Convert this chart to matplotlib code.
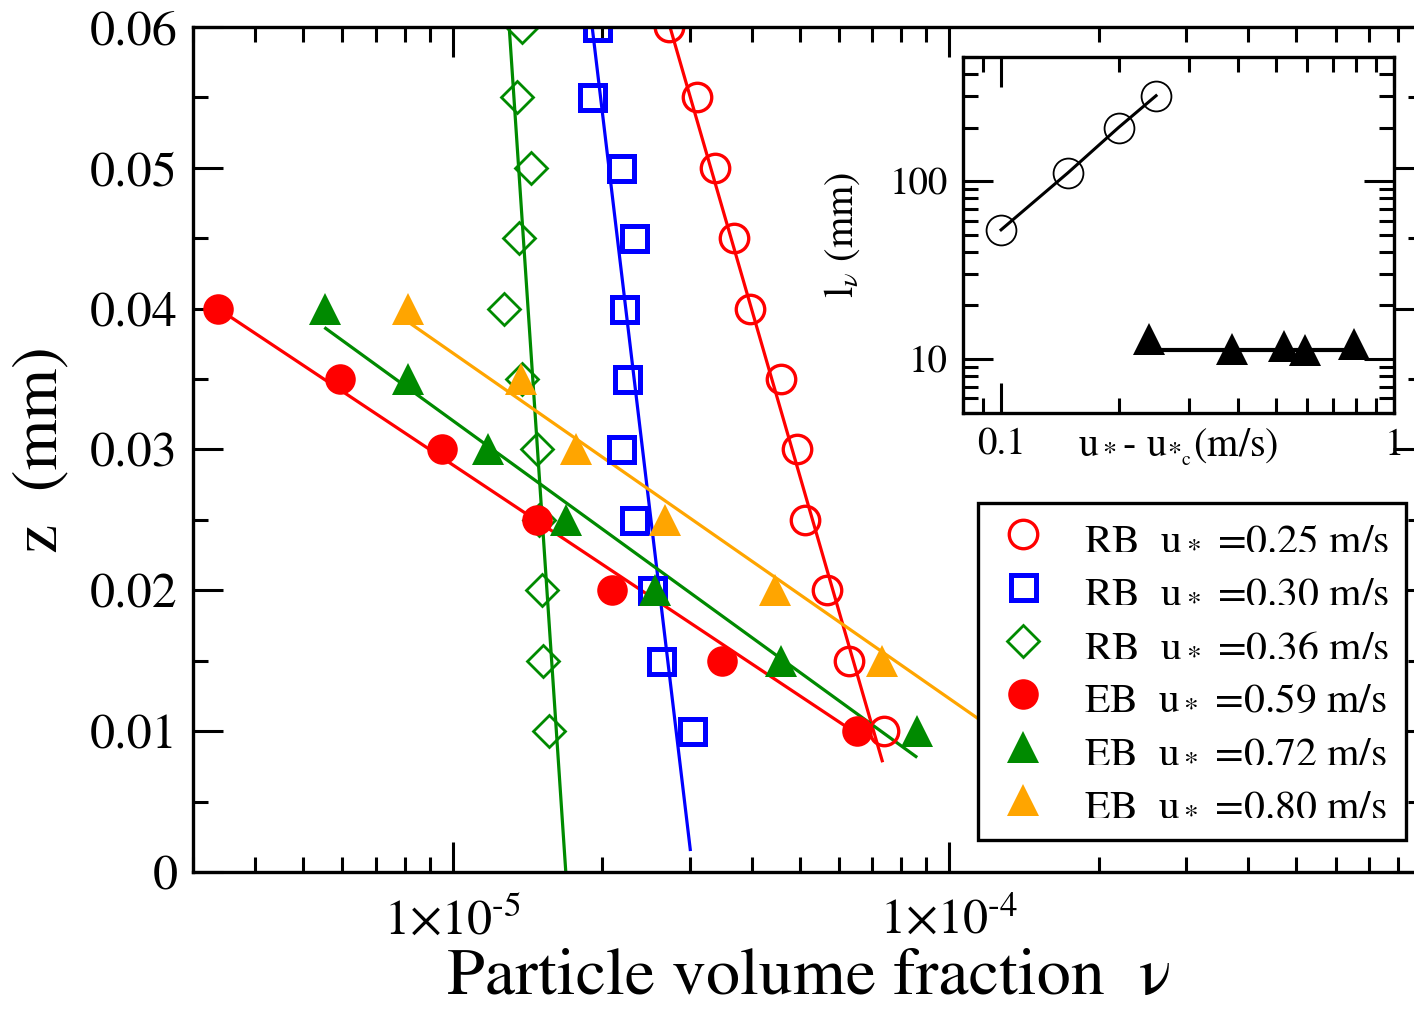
import numpy as np
import matplotlib
matplotlib.use('Agg')
import matplotlib.pyplot as plt
from matplotlib.ticker import MultipleLocator, NullFormatter, LogLocator

plt.rcParams['font.family'] = ['STIXGeneral', 'DejaVu Serif']
plt.rcParams['mathtext.fontset'] = 'stix'

# ---- main panel data ----
z_rb = [0.06, 0.055, 0.05, 0.045, 0.04, 0.035, 0.03, 0.025, 0.02, 0.015, 0.01]
nu_rb025 = [2.73e-5, 3.10e-5, 3.37e-5, 3.68e-5, 3.97e-5, 4.58e-5, 4.93e-5, 5.12e-5, 5.68e-5, 6.28e-5, 7.39e-5]
nu_rb030 = [1.95e-5, 1.91e-5, 2.18e-5, 2.32e-5, 2.21e-5, 2.24e-5, 2.18e-5, 2.32e-5, 2.52e-5, 2.63e-5, 3.03e-5]
nu_rb036 = [1.38e-5, 1.35e-5, 1.44e-5, 1.36e-5, 1.27e-5, 1.38e-5, 1.48e-5, 1.49e-5, 1.51e-5, 1.52e-5, 1.56e-5]

z_eb = [0.04, 0.035, 0.03, 0.025, 0.02, 0.015, 0.01]
nu_eb059 = [3.37e-6, 5.93e-6, 9.50e-6, 1.48e-5, 2.09e-5, 3.49e-5, 6.53e-5]
nu_eb072 = [5.53e-6, 8.14e-6, 1.18e-5, 1.69e-5, 2.56e-5, 4.58e-5, 8.63e-5]
z_eb080 = [0.04, 0.035, 0.03, 0.025, 0.02, 0.015]
nu_eb080 = [8.14e-6, 1.37e-5, 1.77e-5, 2.68e-5, 4.46e-5, 7.31e-5]

# fitted lines (end points)
fit_z_rb025, fit_nu_rb025 = [0.06, 0.0079], [2.74e-5, 7.33e-5]
fit_z_rb030, fit_nu_rb030 = [0.06, 0.0016], [1.91e-5, 3.01e-5]
fit_z_rb036, fit_nu_rb036 = [0.06, 0.0], [1.30e-5, 1.69e-5]
fit_z_eb059, fit_nu_eb059 = [0.04, 0.01], [3.37e-6, 6.40e-5]
fit_z_eb072, fit_nu_eb072 = [0.0386, 0.0082], [5.55e-6, 8.57e-5]
fit_z_eb080, fit_nu_eb080 = [0.039, 0.008], [8.18e-6, 1.50e-4]

labels = [
    r'RB  u$_*$ =0.25 m/s',
    r'RB  u$_*$ =0.30 m/s',
    r'RB  u$_*$ =0.36 m/s',
    r'EB  u$_*$ =0.59 m/s',
    r'EB  u$_*$ =0.72 m/s',
    r'EB  u$_*$ =0.80 m/s',
]

# ---- inset data ----
du_rb = [0.100, 0.148, 0.199, 0.248]
l_rb = [53.3, 111.6, 200.5, 302.8]
du_eb = [0.238, 0.387, 0.526, 0.595, 0.793]
l_eb = [12.9, 11.4, 11.8, 11.3, 12.2]
fit_du_eb, fit_l_eb = [0.238, 0.793], [11.2, 11.2]

orange = '#ffa500'
green = '#008a00'

fig = plt.figure(figsize=(14.14, 10.13), dpi=100)
ax = fig.add_axes([193 / 1414, 141 / 1013, 1230 / 1414, 845 / 1013])

lw = 2.3
ax.plot(fit_nu_rb025, fit_z_rb025, color='red', lw=lw)
ax.plot(fit_nu_rb030, fit_z_rb030, color='blue', lw=lw)
ax.plot(fit_nu_rb036, fit_z_rb036, color=green, lw=lw)
ax.plot(fit_nu_eb059, fit_z_eb059, color='red', lw=lw)
ax.plot(fit_nu_eb072, fit_z_eb072, color=green, lw=lw)
ax.plot(fit_nu_eb080, fit_z_eb080, color=orange, lw=lw)

h = []
h += ax.plot(nu_rb025, z_rb, 'o', ms=20.5, mfc='none', mec='red', mew=2.4)
h += ax.plot(nu_rb030, z_rb, 's', ms=18, mfc='none', mec='blue', mew=3.6)
h += ax.plot(nu_rb036, z_rb, 'D', ms=16, mfc='none', mec=green, mew=2.0)
h += ax.plot(nu_eb059, z_eb, 'o', ms=22, color='red', mew=0)
h += ax.plot(nu_eb072, z_eb, '^', ms=23.5, color=green, mew=0)
h += ax.plot(nu_eb080, z_eb080, '^', ms=23.5, color=orange, mew=0)

ax.set_xscale('log')
ax.set_xlim(3e-6, 9e-4)
ax.set_ylim(0, 0.06)
ax.set_xticks([1e-5, 1e-4])
ax.set_xticklabels([r'$1{\times}10^{\text{-}5}$', r'$1{\times}10^{\text{-}4}$'])
ax.xaxis.set_minor_locator(LogLocator(base=10, subs=np.arange(2, 10)))
ax.xaxis.set_minor_formatter(NullFormatter())
ax.set_yticks(np.arange(0, 0.061, 0.01))
ax.set_yticklabels(['0', '0.01', '0.02', '0.03', '0.04', '0.05', '0.06'])
ax.yaxis.set_minor_locator(MultipleLocator(0.005))
ax.tick_params(which='both', direction='in', top=True, right=True, width=2.2)
ax.tick_params(which='major', length=21.5, labelsize=36)
ax.tick_params(axis='y', which='major', pad=11)
ax.tick_params(axis='x', which='major', pad=19)
ax.tick_params(which='minor', length=11)
for s in ax.spines.values():
    s.set_linewidth(2.4)

ax.set_xlabel('Particle volume fraction  \u03bd', fontsize=49, labelpad=2)
ax.set_ylabel('z  (mm)', fontsize=47, labelpad=14)

leg = ax.legend(h, labels, loc='upper left', bbox_to_anchor=(978 / 1414, 1 - 503 / 1013),
                bbox_transform=fig.transFigure, fontsize=30, frameon=True, fancybox=False,
                framealpha=1, edgecolor='black', borderpad=0.4, handlelength=1.35,
                handletextpad=0.8, labelspacing=0.36, borderaxespad=0)
leg.get_frame().set_linewidth(2.4)

# ---- inset ----
axin = fig.add_axes([963 / 1414, (1013 - 412.5) / 1013, 431 / 1414, 355.5 / 1013])
axin.plot(du_rb, l_rb, color='black', lw=2.2)
axin.plot(du_rb, l_rb, 'o', ms=21.5, mfc='none', mec='black', mew=1.3)
axin.plot(fit_du_eb, fit_l_eb, color='black', lw=3)
axin.plot(du_eb, l_eb, '^', ms=23, color='black', mew=0)
axin.set_xscale('log')
axin.set_yscale('log')
axin.set_xlim(0.08, 1)
axin.set_ylim(5, 500)
axin.set_xticks([0.1, 1])
axin.set_xticklabels(['0.1', '1'])
axin.set_yticks([10, 100])
axin.set_yticklabels(['10', '100'])
axin.xaxis.set_minor_formatter(NullFormatter())
axin.yaxis.set_minor_formatter(NullFormatter())
axin.tick_params(which='both', direction='in', top=True, right=True, width=2.2)
axin.tick_params(which='major', length=21.5, labelsize=28, pad=11)
axin.tick_params(which='minor', length=11)
for s in axin.spines.values():
    s.set_linewidth(2.4)
axin.set_xlabel(r'u$_*$- u$_{*_\mathrm{c}}$(m/s)', fontsize=29, labelpad=-26)
axin.set_ylabel(r'l$_\nu$ (mm)', fontsize=29, labelpad=20)

fig.savefig('out.png', dpi=100)
